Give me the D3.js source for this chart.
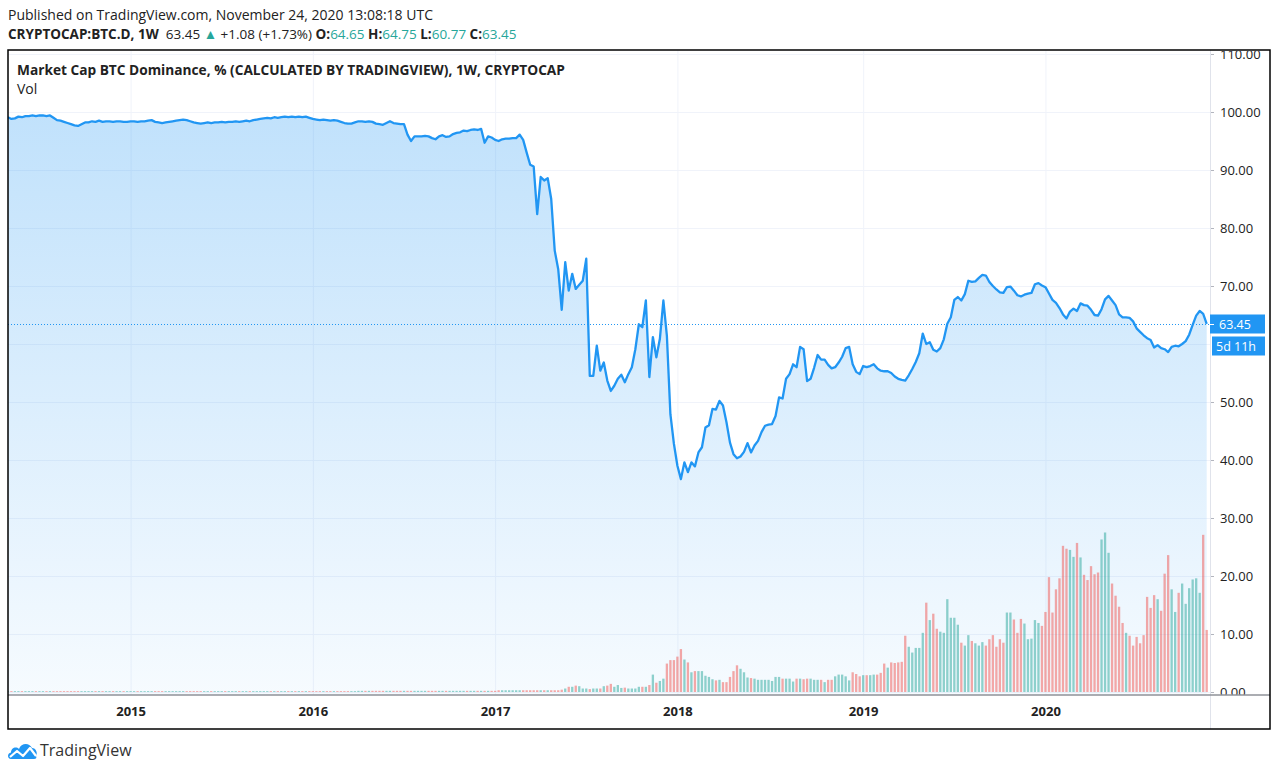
<!doctype html>
<html lang="en">
<head>
    <meta charset="UTF-8">
    <title>BTC Dominance</title>
    <script src="https://cdn.jsdelivr.net/npm/d3@7"></script>
    <style>
        body { margin: 0; background: #fff; }
        svg { display: block; font-family: "Open Sans", "Noto Sans", sans-serif; }
    </style>
</head>
<body>
<script>
    // weekly bars, first one is the week of 2014-05-05, last is 2020-11-23
    var firstWeek = "2014-05-05";
    var lastWeek = "2020-11-23";

    // BTC dominance, weekly close (%)
    var dominance = [
        99.1, 98.8, 98.9, 99.2, 99.1, 99.3, 99.3, 99.4, 99.3, 99.4,
        99.4, 99.3, 99.4, 99.0, 98.6, 98.5, 98.3, 98.1, 97.9, 97.7,
        97.6, 97.9, 98.2, 98.2, 98.4, 98.3, 98.5, 98.3, 98.4, 98.4,
        98.3, 98.4, 98.4, 98.3, 98.3, 98.4, 98.4, 98.3, 98.4, 98.4,
        98.5, 98.6, 98.3, 98.2, 98.1, 98.2, 98.3, 98.4, 98.5, 98.6,
        98.7, 98.6, 98.4, 98.2, 98.1, 98.0, 98.1, 98.2, 98.1, 98.2,
        98.2, 98.3, 98.2, 98.3, 98.3, 98.4, 98.3, 98.4, 98.5, 98.4,
        98.6, 98.7, 98.8, 98.9, 99.0, 98.9, 99.1, 99.0, 99.1, 99.2,
        99.1, 99.2, 99.1, 99.2, 99.1, 99.2, 99.0, 98.8, 98.7, 98.6,
        98.7, 98.6, 98.5, 98.6, 98.5, 98.3, 98.1, 98.0, 98.0, 98.2,
        98.4, 98.4, 98.3, 98.4, 98.3, 98.0, 97.9, 97.8, 98.1, 98.4,
        98.1, 98.0, 97.9, 97.9, 96.1, 95.0, 95.8, 95.8, 95.8, 95.9,
        95.8, 95.5, 95.3, 95.8, 96.0, 95.7, 95.8, 96.2, 96.4, 96.5,
        96.8, 96.7, 96.9, 97.0, 96.9, 97.1, 94.7, 95.8, 95.6, 95.2,
        95.0, 95.3, 95.4, 95.4, 95.5, 95.5, 96.1, 95.2, 93.0, 90.9,
        90.6, 82.4, 88.8, 88.2, 88.6, 85.0, 76.1, 72.9, 65.9, 74.1,
        69.2, 72.1, 69.5, 70.2, 70.9, 74.7, 54.5, 54.5, 59.7, 55.4,
        56.8, 53.7, 51.9, 52.8, 54.0, 54.7, 53.4, 54.8, 56.0, 59.1,
        63.4, 62.9, 67.5, 54.3, 61.2, 57.7, 60.9, 67.5, 61.4, 47.9,
        42.8, 39.0, 36.7, 39.6, 37.9, 39.6, 38.9, 41.3, 42.2, 45.6,
        46.0, 48.8, 48.7, 50.2, 49.4, 46.5, 43.0, 41.0, 40.3, 40.6,
        41.4, 42.9, 41.3, 42.5, 43.3, 44.8, 45.9, 46.1, 46.2, 47.6,
        50.8, 50.6, 54.0, 54.8, 56.5, 56.0, 59.5, 59.1, 53.6, 54.0,
        55.9, 58.1, 57.3, 57.3, 56.4, 55.8, 56.0, 56.8, 57.8, 59.3,
        59.5, 56.5, 55.2, 54.8, 56.2, 56.0, 56.2, 56.5, 55.8, 55.4,
        55.3, 55.3, 55.0, 54.4, 54.0, 53.8, 53.7, 54.6, 55.7, 56.9,
        58.4, 61.8, 60.0, 60.3, 59.0, 58.7, 59.3, 60.8, 63.5, 64.6,
        67.6, 68.1, 67.5, 68.6, 70.9, 70.7, 70.8, 71.4, 71.9, 71.8,
        70.7, 70.0, 69.4, 68.9, 68.8, 69.8, 69.9, 69.2, 68.4, 68.2,
        68.5, 68.7, 68.8, 70.3, 70.5, 70.1, 69.8, 68.7, 67.6, 67.1,
        66.2, 65.1, 64.4, 65.6, 66.1, 65.7, 67.0, 66.7, 66.6, 65.9,
        65.0, 64.9, 66.0, 67.7, 68.3, 67.5, 66.7, 65.1, 64.6, 64.6,
        64.5, 63.9, 62.7, 62.1, 61.5, 61.0, 60.7, 59.4, 59.8, 59.3,
        59.1, 58.6, 59.5, 59.7, 59.6, 60.0, 60.5, 61.6, 63.3, 64.9,
        65.7, 65.2, 63.45
    ];

    // weekly volume (relative units)
    var volume = [
        0.15, 0.15, 0.15, 0.15, 0.15, 0.15, 0.15, 0.15, 0.15, 0.15,
        0.15, 0.15, 0.15, 0.15, 0.15, 0.15, 0.15, 0.15, 0.15, 0.15,
        0.15, 0.15, 0.15, 0.15, 0.15, 0.15, 0.15, 0.15, 0.15, 0.15,
        0.15, 0.15, 0.15, 0.15, 0.15, 0.15, 0.15, 0.15, 0.15, 0.15,
        0.15, 0.15, 0.15, 0.15, 0.15, 0.15, 0.15, 0.15, 0.15, 0.15,
        0.15, 0.15, 0.15, 0.15, 0.15, 0.15, 0.15, 0.15, 0.15, 0.15,
        0.15, 0.15, 0.15, 0.15, 0.15, 0.15, 0.15, 0.15, 0.15, 0.15,
        0.15, 0.15, 0.15, 0.15, 0.15, 0.15, 0.15, 0.15, 0.15, 0.15,
        0.15, 0.15, 0.15, 0.15, 0.15, 0.15, 0.15, 0.15, 0.15, 0.15,
        0.15, 0.15, 0.15, 0.15, 0.15, 0.15, 0.15, 0.15, 0.15, 0.15,
        0.2, 0.2, 0.2, 0.2, 0.2, 0.2, 0.2, 0.2, 0.2, 0.2,
        0.2, 0.2, 0.2, 0.2, 0.2, 0.2, 0.2, 0.2, 0.2, 0.2,
        0.2, 0.2, 0.2, 0.2, 0.2, 0.2, 0.2, 0.2, 0.2, 0.2,
        0.2, 0.2, 0.2, 0.2, 0.2, 0.2, 0.2, 0.2, 0.2, 0.2,
        0.3, 0.3, 0.3, 0.3, 0.3, 0.3, 0.3, 0.3, 0.3, 0.3,
        0.3, 0.3, 0.3, 0.3, 0.3, 0.3, 0.3, 0.3, 0.4, 0.6,
        0.9, 0.9, 1.1, 1.0, 0.6, 0.6, 0.5, 0.6, 0.6, 0.6,
        1.0, 1.1, 1.4, 0.9, 1.2, 0.7, 0.75, 0.6, 0.6, 0.6,
        0.9, 0.9, 0.9, 1.2, 3.0, 1.6, 1.9, 2.3, 4.9, 5.5,
        5.5, 6.1, 7.4, 5.6, 5.1, 3.4, 3.6, 3.6, 3.6, 2.8,
        2.6, 2.2, 2.0, 2.1, 1.7, 1.7, 2.6, 3.6, 4.6, 4.0,
        3.4, 2.5, 2.4, 2.3, 2.1, 2.1, 2.1, 2.1, 1.9, 2.6,
        2.6, 2.3, 2.3, 2.3, 1.8, 2.3, 2.3, 2.2, 2.3, 2.3,
        2.1, 2.1, 2.1, 1.7, 2.1, 2.1, 2.7, 3.0, 3.0, 2.7,
        2.0, 3.4, 3.1, 2.7, 2.9, 2.9, 2.9, 3.0, 3.0, 3.3,
        4.9, 4.2, 5.1, 5.0, 5.1, 5.2, 9.7, 7.8, 6.8, 7.6,
        7.6, 10.2, 15.4, 12.4, 13.5, 10.9, 10.4, 10.2, 16.0, 12.8,
        12.8, 11.6, 8.5, 8.0, 9.8, 8.8, 8.4, 8.0, 8.6, 8.0,
        9.1, 9.8, 7.8, 9.1, 8.5, 13.7, 13.7, 12.5, 10.2, 12.6,
        11.8, 9.1, 9.2, 12.4, 11.9, 11.4, 13.8, 19.8, 13.7, 17.7,
        19.6, 25.2, 24.7, 24.5, 23.3, 25.7, 23.2, 20.2, 19.3, 21.7,
        20.3, 20.6, 26.3, 27.5, 24.0, 18.7, 16.6, 14.7, 11.9, 10.2,
        9.7, 8.0, 9.5, 8.4, 9.8, 16.4, 14.5, 16.7, 16.0, 14.0,
        20.4, 23.6, 17.7, 13.8, 17.1, 18.7, 15.2, 17.9, 19.4, 19.6,
        17.1, 27.1, 10.7
    ];

    var priceTicks = [0, 10, 20, 30, 40, 50, 60, 70, 80, 90, 100, 110];
    var lastLabel = "63.45";
    var countdown = "5d 11h";

    var w = 1280;
    var h = 772;
    var frame = {l: 8, t: 50, r: 1270, b: 729};
    var pane = {l: 8, t: 50, r: 1210, b: 695};
    var blue = "#2196f3";
    var upColor = "rgba(38,166,154,0.5)";
    var downColor = "rgba(239,83,80,0.5)";
    var teal = "#26a69a";
    var ink = "#222";

    var parse = d3.timeParse("%Y-%m-%d");
    var dates = d3.timeMonday.range(parse(firstWeek), d3.timeDay.offset(parse(lastWeek), 1));
    var data = dates.map(function (d, i) {
        return {date: d, value: dominance[i], vol: volume[i], up: i === 0 || dominance[i] >= dominance[i - 1]};
    });

    var x_scale = d3.scaleTime().domain([dates[0], dates[dates.length - 1]]).range([7.9, 1206.7]);
    var y_scale = d3.scaleLinear().domain([0, 110]).range([692, 54]);
    var v_scale = d3.scaleLinear().domain([0, 30]).range([692, 518]);

    var svg = d3.select("body").append("svg").attr("width", w).attr("height", h);
    var defs = svg.append("defs");

    defs.append("clipPath").attr("id", "pane")
        .append("rect")
        .attr("x", pane.l).attr("y", pane.t)
        .attr("width", pane.r - pane.l).attr("height", pane.b - pane.t);
    defs.append("clipPath").attr("id", "axisclip")
        .append("rect")
        .attr("x", pane.r).attr("y", pane.t + 1)
        .attr("width", frame.r - pane.r).attr("height", pane.b - pane.t - 1);

    var grad = defs.append("linearGradient").attr("id", "fill")
        .attr("gradientUnits", "userSpaceOnUse")
        .attr("x1", 0).attr("x2", 0)
        .attr("y1", y_scale(d3.max(dominance))).attr("y2", pane.b);
    grad.append("stop").attr("offset", 0).attr("stop-color", blue).attr("stop-opacity", 0.28);
    grad.append("stop").attr("offset", 1).attr("stop-color", blue).attr("stop-opacity", 0.04);

    // header
    svg.append("text")
        .attr("x", 8).attr("y", 20)
        .attr("font-size", "14px").attr("fill", ink)
        .text("Published on TradingView.com, November 24, 2020 13:08:18 UTC");

    var hdr = svg.append("text")
        .attr("x", 8).attr("y", 39)
        .attr("font-size", "13.5px").attr("fill", ink)
        .attr("xml:space", "preserve");
    var parts = [
        ["CRYPTOCAP:BTC.D, 1W", ink, "bold"],
        ["  63.45 ", ink, "normal"],
        ["\u25B2", teal, "normal"],
        [" +1.08 (+1.73%) ", ink, "normal"],
        ["O:", ink, "bold"], ["64.65 ", teal, "normal"],
        ["H:", ink, "bold"], ["64.75 ", teal, "normal"],
        ["L:", ink, "bold"], ["60.77 ", teal, "normal"],
        ["C:", ink, "bold"], ["63.45", teal, "normal"]
    ];
    hdr.selectAll("tspan")
        .data(parts)
        .enter()
        .append("tspan")
        .attr("fill", function (d) { return d[1]; })
        .attr("font-weight", function (d) { return d[2]; })
        .text(function (d) { return d[0]; });

    // grid
    var grid = svg.append("g").attr("clip-path", "url(#pane)");
    grid.selectAll("line.h")
        .data(priceTicks)
        .enter()
        .append("line")
        .attr("x1", pane.l).attr("x2", pane.r)
        .attr("y1", function (d) { return y_scale(d) + 0.5; })
        .attr("y2", function (d) { return y_scale(d) + 0.5; })
        .attr("stroke", "#f0f3fa").attr("stroke-width", 1);

    var yearStarts = [];
    dates.forEach(function (d, i) {
        if (i > 0 && d.getFullYear() !== dates[i - 1].getFullYear()) yearStarts.push(d);
    });
    grid.selectAll("line.v")
        .data(yearStarts)
        .enter()
        .append("line")
        .attr("x1", function (d) { return x_scale(d) + 0.5; })
        .attr("x2", function (d) { return x_scale(d) + 0.5; })
        .attr("y1", pane.t).attr("y2", pane.b)
        .attr("stroke", "#f0f3fa").attr("stroke-width", 1);

    var plot = svg.append("g").attr("clip-path", "url(#pane)");

    // area + line
    var area = d3.area()
        .x(function (d) { return x_scale(d.date); })
        .y0(pane.b)
        .y1(function (d) { return y_scale(d.value); });
    var line = d3.line()
        .x(function (d) { return x_scale(d.date); })
        .y(function (d) { return y_scale(d.value); });

    plot.append("path").datum(data).attr("d", area).attr("fill", "url(#fill)");

    // volume
    var barW = 2.3;
    plot.selectAll("rect.vol")
        .data(data)
        .enter()
        .append("rect")
        .attr("x", function (d) { return x_scale(d.date) - barW / 2; })
        .attr("width", barW)
        .attr("y", function (d) { return v_scale(d.vol); })
        .attr("height", function (d) { return v_scale(0) - v_scale(d.vol); })
        .attr("fill", function (d) { return d.up ? upColor : downColor; });

    plot.append("path").datum(data).attr("d", line)
        .attr("fill", "none").attr("stroke", blue)
        .attr("stroke-width", 2.3).attr("stroke-linejoin", "round");

    // last price dotted line
    var lastY = Math.round(y_scale(dominance[dominance.length - 1])) + 0.5;
    svg.append("line")
        .attr("x1", pane.l).attr("x2", pane.r)
        .attr("y1", lastY).attr("y2", lastY)
        .attr("stroke", blue).attr("stroke-width", 1)
        .attr("stroke-dasharray", "1,2");

    // price axis (clip group outside the translated axis group)
    var yAxis = svg.append("g")
        .attr("clip-path", "url(#axisclip)")
        .append("g")
        .attr("transform", "translate(" + pane.r + ",0)")
        .call(d3.axisRight(y_scale).tickValues(priceTicks).tickFormat(d3.format(".2f")).tickSize(4).tickPadding(6));
    yAxis.select(".domain").remove();
    yAxis.selectAll(".tick line").attr("stroke", "#b2b5be");
    yAxis.selectAll(".tick text")
        .attr("font-family", "'Open Sans', sans-serif")
        .attr("font-size", "13px").attr("fill", ink);
    // tick labels sitting under the last-value boxes are hidden, like in TradingView
    yAxis.selectAll(".tick")
        .filter(function (d) { return y_scale(d) > lastY - 14 && y_scale(d) < lastY + 36; })
        .remove();

    svg.append("line")
        .attr("x1", pane.r + 0.5).attr("x2", pane.r + 0.5)
        .attr("y1", pane.t).attr("y2", frame.b)
        .attr("stroke", "#e0e3eb").attr("stroke-width", 1);

    // last value labels
    svg.append("rect")
        .attr("x", pane.r).attr("y", lastY - 10)
        .attr("width", 55).attr("height", 19)
        .attr("fill", blue);
    svg.append("line")
        .attr("x1", pane.r).attr("x2", pane.r + 4)
        .attr("y1", lastY).attr("y2", lastY)
        .attr("stroke", "#fff");
    svg.append("text")
        .attr("x", pane.r + 9).attr("y", lastY + 4.5)
        .attr("font-size", "12.5px").attr("fill", "#fff")
        .text(lastLabel);
    svg.append("rect")
        .attr("x", pane.r + 2).attr("y", lastY + 12)
        .attr("width", 53).attr("height", 19)
        .attr("fill", blue);
    svg.append("text")
        .attr("x", pane.r + 6).attr("y", lastY + 26.5)
        .attr("font-size", "12.5px").attr("fill", "#fff")
        .text(countdown);

    // time axis
    svg.append("line")
        .attr("x1", frame.l).attr("x2", frame.r)
        .attr("y1", pane.b).attr("y2", pane.b)
        .attr("stroke", "#8f9299").attr("stroke-width", 1.5);

    var xAxis = svg.append("g")
        .attr("transform", "translate(0," + pane.b + ")")
        .call(d3.axisBottom(x_scale).tickValues(yearStarts).tickFormat(d3.timeFormat("%Y")).tickSize(0).tickPadding(12));
    xAxis.select(".domain").remove();
    xAxis.selectAll(".tick text")
        .attr("font-family", "'Open Sans', sans-serif")
        .attr("font-size", "13px").attr("font-weight", "bold").attr("fill", ink);

    // legend texts
    svg.append("text")
        .attr("x", 17).attr("y", 75)
        .attr("font-size", "13.7px").attr("font-weight", "bold").attr("fill", ink)
        .text("Market Cap BTC Dominance, % (CALCULATED BY TRADINGVIEW), 1W, CRYPTOCAP");
    svg.append("text")
        .attr("x", 17).attr("y", 94)
        .attr("font-size", "14px").attr("fill", ink)
        .text("Vol");

    // frame
    svg.append("rect")
        .attr("x", frame.l).attr("y", frame.t)
        .attr("width", frame.r - frame.l).attr("height", frame.b - frame.t)
        .attr("fill", "none").attr("stroke", "#000").attr("stroke-width", 1.5);

    // footer logo
    var logo = svg.append("g").attr("transform", "translate(7,742)");
    logo.append("path")
        .attr("d", "M4,17 C0,17 0,11 4,10.5 C4,6 9,4 12,7 C14,1 22,0 25,6 C29,6 31,11 29,14 C30,16 29,17 27,17 Z")
        .attr("fill", blue);
    logo.append("path")
        .attr("d", "M3,15 L10,9 L16,14 L23,6 L29,14")
        .attr("fill", "none").attr("stroke", "#fff").attr("stroke-width", 2.2)
        .attr("stroke-linejoin", "round");
    svg.append("text")
        .attr("x", 40).attr("y", 756)
        .attr("font-size", "16px").attr("fill", "#333")
        .text("TradingView");
</script>
</body>
</html>
